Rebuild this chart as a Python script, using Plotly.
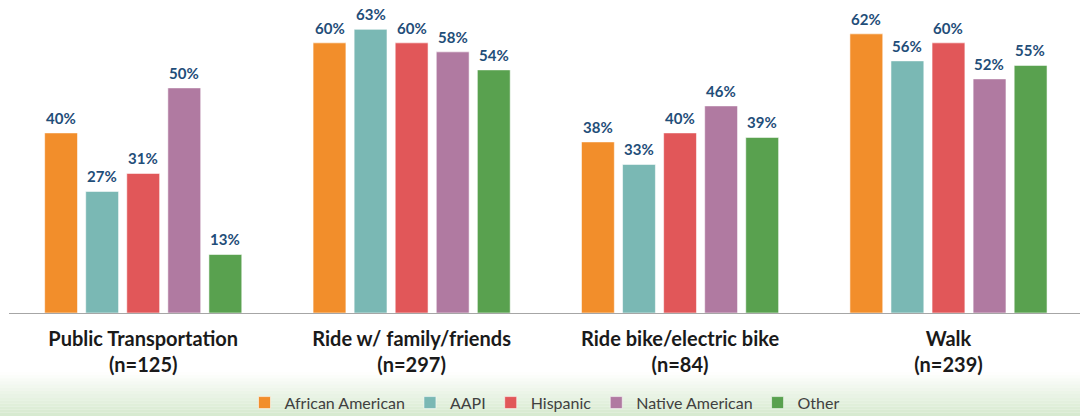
import plotly.graph_objects as go

categories = ["Public Transportation", "Ride w/ family/friends", "Ride bike/electric bike", "Walk"]
sample_sizes = ["n=125", "n=297", "n=84", "n=239"]
groups = ["African American", "AAPI", "Hispanic", "Native American", "Other"]
african_american = [40, 60, 38, 62]
aapi = [27, 63, 33, 56]
hispanic = [31, 60, 40, 60]
native_american = [50, 58, 46, 52]
other = [13, 54, 39, 55]

series = [african_american, aapi, hispanic, native_american, other]
colors = ["#F28E2B", "#7AB8B4", "#E15759", "#B07AA1", "#59A14F"]

FONT = "Lato"
fig = go.Figure()
for name, vals, col in zip(groups, series, colors):
    fig.add_trace(go.Bar(
        name=name, x=categories, y=vals,
        marker=dict(color=col, line=dict(color="rgba(255,255,255,0.55)", width=1)),
    ))

# value labels above bars
n = len(groups)
pitch = 41
for i, vals in enumerate(series):
    for c, v in zip(categories, vals):
        fig.add_annotation(
            x=c, y=v, text=f"<b>{v}%</b>", showarrow=False,
            xshift=(i - (n - 1) / 2) * pitch, yshift=15,
            font=dict(family=FONT, size=15, color="#1F4E79"),
        )

# bottom light green gradient band
H_PLOT = 303.0
top_px, bot_px = 372, 416
steps = 14
for k in range(steps):
    p0 = top_px + (bot_px - top_px) * k / steps
    p1 = top_px + (bot_px - top_px) * (k + 1) / steps
    op = (k + 0.5) / steps
    fig.add_shape(
        type="rect", xref="paper", yref="paper",
        x0=-0.05, x1=1.05, y0=(313 - p1) / H_PLOT, y1=(313 - p0) / H_PLOT,
        fillcolor=f"rgba(214,233,206,{op:.3f})", line=dict(width=0), layer="below",
    )

ticktext = [f"<b>{c}<br>({s})</b>" for c, s in zip(categories, sample_sizes)]

fig.update_layout(
    width=1080, height=416,
    margin=dict(l=9, r=0, t=10, b=103, autoexpand=False),
    paper_bgcolor="white", plot_bgcolor="white",
    barmode="group", bargap=0.235, bargroupgap=0.2,
    showlegend=True,
    legend=dict(
        orientation="h", x=0.5, xanchor="center", y=-0.296, yanchor="middle",
        font=dict(family=FONT, size=16, color="#404040"),
        bgcolor="rgba(0,0,0,0)", itemwidth=30,
    ),
    xaxis=dict(
        tickmode="array", tickvals=categories, ticktext=ticktext,
        tickfont=dict(family=FONT, size=20, color="#1a1a1a"),
        showline=True, linecolor="#A6A6A6", linewidth=1,
        showgrid=False, ticks="", range=[-0.5, 3.49], ticklabelstandoff=8,
    ),
    yaxis=dict(range=[0, 67.3], visible=False, showgrid=False, zeroline=False),
)

fig.write_html(
    "out.html",
    config={"displayModeBar": False},
    post_script="document.body.style.margin='0';document.body.style.overflow='hidden';",
)
